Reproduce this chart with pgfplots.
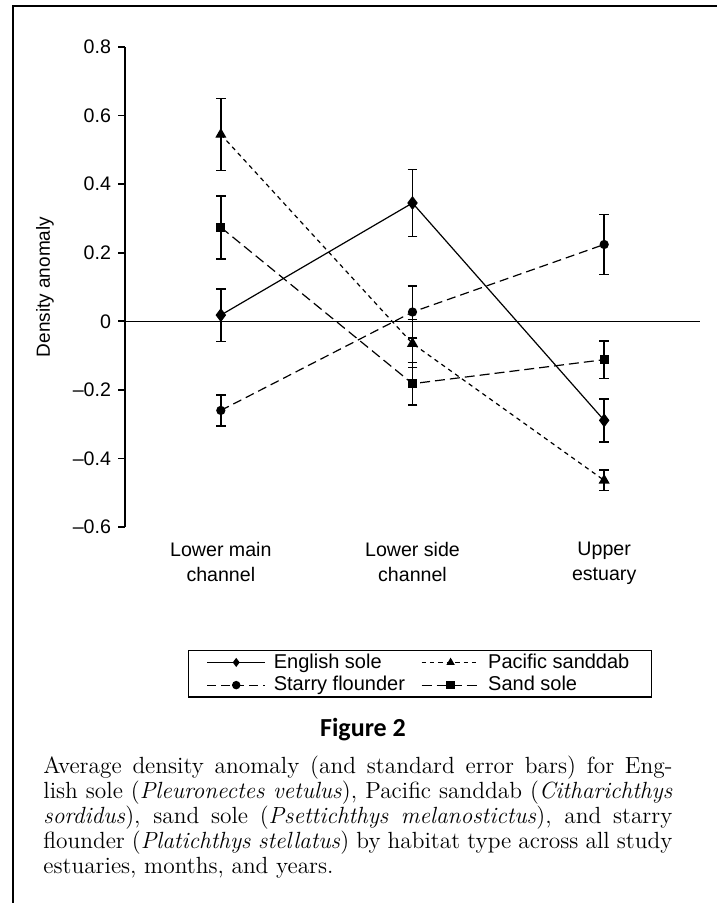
\documentclass[border=0pt]{standalone}
\usepackage{pgfplots}
\pgfplotsset{compat=1.18}
\usepackage{fontspec}
\newfontfamily\arial{Liberation Sans}
\newfontfamily\figfont{Carlito}
\newcommand{\capline}[1]{\hbox to 314.5pt{#1}}
\begin{document}
\begin{tikzpicture}
\path[use as bounding box] (-62.5pt,-188pt) rectangle (296pt,263.5pt);
\draw[line width=1pt] (-56pt,-188pt) -- (-56pt,260.5pt) -- (296pt,260.5pt);
\begin{axis}[
  at={(0pt,0pt)}, anchor=south west,
  scale only axis, width=287.5pt, height=240pt,
  xmin=0.5, xmax=3.5, ymin=-0.6, ymax=0.8,
  axis y line=left, axis x line=bottom,
  x axis line style={draw=none},
  y axis line style={-, line width=0.9pt},
  xtick={1,2,3},
  xticklabels={Lower main\\channel, Lower side\\channel, Upper\\estuary},
  xtick style={draw=none},
  xticklabel style={align=center, font=\arial\fontsize{9.8}{12.5}\selectfont, yshift=-0.5pt},
  ytick={-0.6,-0.4,-0.2,0,0.2,0.4,0.6,0.8},
  yticklabels={\textendash0.6,\textendash0.4,\textendash0.2,0,0.2,0.4,0.6,0.8},
  yticklabel style={font=\arial\fontsize{9.8}{11}\selectfont},
  ytick style={line width=0.9pt, black},
  tick align=outside, major tick length=3.5pt,
  ylabel={Density anomaly},
  every axis y label/.style={at={(axis description cs:-0.139,0.5)}, rotate=90, anchor=center, font=\arial\fontsize{9.5}{11}\selectfont},
  clip=false,
  legend columns=2,
  legend style={at={(axis description cs:0.1096,-0.256)}, anchor=north west, draw=black, line width=0.6pt,
    font=\arial\fontsize{10}{11}\selectfont, inner xsep=9pt, inner ysep=0.3pt,
    nodes={inner ysep=1.3pt},
    /tikz/every odd column/.append style={column sep=2pt},
    /tikz/every even column/.append style={column sep=6pt}},
  legend cell align=left,
  legend image code/.code={\draw[mark repeat=2,mark phase=2,#1, mark size=1.8pt] plot coordinates {(0pt,0pt) (14.5pt,0pt) (29pt,0pt)};},
]
\addplot[black, line width=0.6pt, forget plot] coordinates {(0.5,0) (3.5,0)};
\addplot[black, line width=0.6pt, mark=diamond*, mark size=3pt, mark options={solid},
  error bars/.cd, y dir=both, y explicit, error bar style={solid, line width=0.8pt},
  error mark options={rotate=90, mark size=2.4pt, line width=0.8pt}]
  coordinates {(1,0.018) +- (0,0.077) (2,0.345) +- (0,0.098) (3,-0.289) +- (0,0.063)};
\addlegendentry{English sole}
\addplot[black, line width=0.6pt, dash pattern=on 2.2pt off 2pt, mark=triangle*, mark size=2.6pt, mark options={solid},
  error bars/.cd, y dir=both, y explicit, error bar style={solid, line width=0.8pt},
  error mark options={rotate=90, mark size=2.4pt, line width=0.8pt}]
  coordinates {(1,0.545) +- (0,0.105) (2,-0.065) +- (0,0.07) (3,-0.464) +- (0,0.03)};
\addlegendentry{Pacific sanddab}
\addplot[black, line width=0.6pt, dash pattern=on 4.5pt off 2.5pt, mark=*, mark size=2pt, mark options={solid},
  error bars/.cd, y dir=both, y explicit, error bar style={solid, line width=0.8pt},
  error mark options={rotate=90, mark size=2.4pt, line width=0.8pt}]
  coordinates {(1,-0.26) +- (0,0.045) (2,0.027) +- (0,0.076) (3,0.224) +- (0,0.088)};
\addlegendentry{Starry flounder}
\addplot[black, line width=0.6pt, dash pattern=on 5pt off 2.5pt, mark=square*, mark size=2pt, mark options={solid},
  error bars/.cd, y dir=both, y explicit, error bar style={solid, line width=0.8pt},
  error mark options={rotate=90, mark size=2.4pt, line width=0.8pt}]
  coordinates {(1,0.274) +- (0,0.092) (2,-0.182) +- (0,0.062) (3,-0.112) +- (0,0.055)};
\addlegendentry{Sand sole}
\end{axis}
\node[anchor=base, font=\figfont\bfseries\fontsize{13}{15}\selectfont] at (119pt,-104.5pt) {Figure 2};
\begin{scope}[every node/.style={anchor=base west, inner sep=0pt, font=\fontsize{11.7}{12.5}\selectfont}]
\node at (-41pt,-123pt) {\capline{Average density anomaly (and standard error bars) for Eng-}};
\node at (-41pt,-135.5pt) {\capline{lish sole (\textit{Pleuronectes vetulus}), Pacific sanddab (\textit{Citharichthys}}};
\node at (-41pt,-148pt) {\capline{\textit{sordidus}), sand sole (\textit{Psettichthys melanostictus}), and starry}};
\node at (-41pt,-160.5pt) {\capline{flounder (\textit{Platichthys stellatus}) by habitat type across all study}};
\node at (-41pt,-173pt) {estuaries, months, and years.};
\end{scope}
\end{tikzpicture}
\end{document}
